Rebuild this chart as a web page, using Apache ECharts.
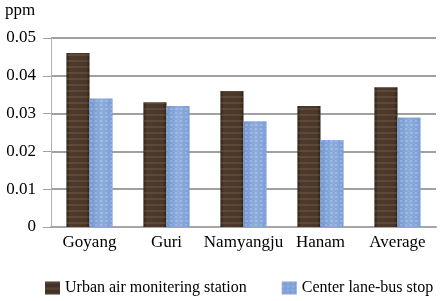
<!DOCTYPE html>
<html><head><meta charset="utf-8">
<script src="https://cdn.jsdelivr.net/npm/echarts@6/dist/echarts.min.js"></script>
<style>html,body{margin:0;padding:0;background:#fff}#c{width:446px;height:301px}</style>
</head><body><div id="c"></div>
<script>
var categories = ['Goyang', 'Guri', 'Namyangju', 'Hanam', 'Average'];
var urbanStation = [0.046, 0.033, 0.036, 0.032, 0.037];
var busStop = [0.034, 0.032, 0.028, 0.023, 0.029];
var yTicks = ['0', '0.01', '0.02', '0.03', '0.04', '0.05'];

var font = 'Liberation Serif, Times New Roman, serif';
var chart = echarts.init(document.getElementById('c'));
var brown = new echarts.graphic.LinearGradient(0,0,1,0,[
  {offset:0,color:'#2e2219'},{offset:0.15,color:'#4d3a2c'},{offset:0.85,color:'#4a3729'},{offset:1,color:'#2b2018'}]);
var blue = new echarts.graphic.LinearGradient(0,0,1,0,[
  {offset:0,color:'#7297d2'},{offset:0.5,color:'#8eadde'},{offset:1,color:'#7a9ed6'}]);
chart.setOption({
  animation: false,
  graphic: [{type:'text', left:5, top:2, style:{text:'ppm', font:'17px ' + font, fill:'#000'}}],
  grid: {left: 51, right: 10, top: 38, bottom: 74},
  legend: {
    bottom: 5, left: 45, padding: 0, itemWidth: 15, itemHeight: 13, itemGap: 35,
    textStyle: {fontFamily: font, fontSize: 16, color: '#000'},
    data: [{name:'Urban air monitering station', icon:'rect', itemStyle:{color:'#43322a'}},
           {name:'Center lane-bus stop', icon:'rect', itemStyle:{color:'#7f9fd7'}}]
  },
  xAxis: {
    type: 'category', data: categories,
    axisLine: {lineStyle: {color: '#a6a6a6', width: 2}},
    axisTick: {show: false},
    axisLabel: {fontFamily: font, fontSize: 17, color: '#000', margin: 7, interval: 0}
  },
  yAxis: {
    type: 'value', min: 0, max: 0.05, interval: 0.01,
    axisLine: {show: true, lineStyle: {color: '#b0b0b0', width: 1}},
    axisTick: {show: true, length: 8, lineStyle: {color: '#a0a0a0'}},
    splitLine: {lineStyle: {color: '#a0a0a0', width: 2}},
    axisLabel: {fontFamily: font, fontSize: 17, color: '#000', margin: 15, padding: [0,0,5,0],
      formatter: function (v) { return yTicks[Math.round(v * 100)]; }}
  },
  series: [
    {name: 'Urban air monitering station', type: 'bar', data: urbanStation,
     barGap: '0%', barCategoryGap: '40%',
     itemStyle: {color: brown, decal: {symbol:'rect', color:'rgba(180,150,110,0.18)', dashArrayX:[1,0], dashArrayY:[2,4], rotation:0}}},
    {name: 'Center lane-bus stop', type: 'bar', data: busStop,
     itemStyle: {color: blue, decal: {symbol:'rect', color:'rgba(255,255,255,0.18)', dashArrayX:[[3,2],[2,3]], dashArrayY:[2,2], rotation:0}}}
  ]
});
</script></body></html>
